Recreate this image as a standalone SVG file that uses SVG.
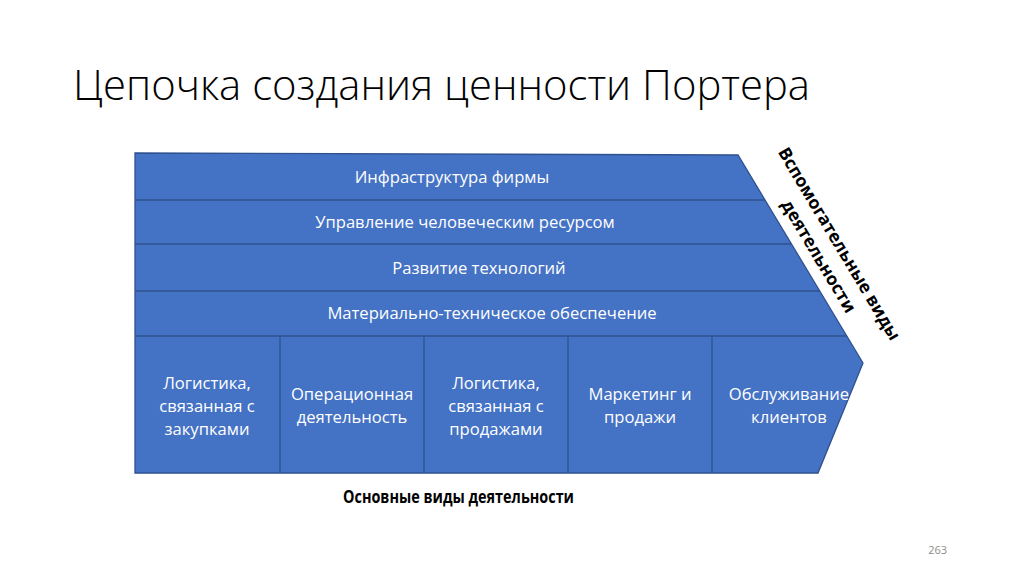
<svg xmlns="http://www.w3.org/2000/svg" width="1024" height="574" viewBox="0 0 1024 574">
<style>
.t{font-family:"Open Sans","Liberation Sans",sans-serif;font-size:16.6px;fill:#ffffff;text-anchor:middle}
.ln{stroke:#2F528F;stroke-width:1.3;fill:none}
</style>
<defs>
<clipPath id="chev"><polygon points="135,153 738,155 863,363 818,473 135,473"/></clipPath>
</defs>
<rect width="1024" height="574" fill="#ffffff"/>
<text x="73" y="100" font-family="'Open Sans','Liberation Sans',sans-serif" font-weight="300" font-size="42" fill="#000" textLength="737" lengthAdjust="spacingAndGlyphs">Цепочка создания ценности Портера</text>
<g id="chevron">
<polygon points="135,153 738,155 863,363 818,473 135,473" fill="#4472C4" stroke="#2F528F" stroke-width="1.3"/>
</g>
<g id="connectors" clip-path="url(#chev)">
<line class="ln" x1="135" y1="200" x2="900" y2="200"/>
<line class="ln" x1="135" y1="244" x2="900" y2="244"/>
<line class="ln" x1="135" y1="291" x2="900" y2="291"/>
<line class="ln" x1="135" y1="336" x2="900" y2="336"/>
<line class="ln" x1="280" y1="336" x2="280" y2="473"/>
<line class="ln" x1="424" y1="336" x2="424" y2="473"/>
<line class="ln" x1="568" y1="336" x2="568" y2="473"/>
<line class="ln" x1="712" y1="336" x2="712" y2="473"/>
</g>
<g id="infra"><text class="t" x="452" y="183">Инфраструктура фирмы</text></g>
<g id="hr"><text class="t" x="465" y="228">Управление человеческим ресурсом</text></g>
<g id="tech"><text class="t" x="479" y="274">Развитие технологий</text></g>
<g id="mto"><text class="t" x="492" y="319">Материально-техническое обеспечение</text></g>
<g id="inlog"><text class="t" x="207" y="389">Логистика,</text><text class="t" x="207" y="412">связанная с</text><text class="t" x="207" y="435">закупками</text></g>
<g id="ops"><text class="t" x="352" y="400">Операционная</text><text class="t" x="352" y="423">деятельность</text></g>
<g id="outlog"><text class="t" x="496" y="389">Логистика,</text><text class="t" x="496" y="412">связанная с</text><text class="t" x="496" y="435">продажами</text></g>
<g id="mkt"><text class="t" x="640" y="400">Маркетинг и</text><text class="t" x="640" y="423">продажи</text></g>
<g id="svc"><text class="t" x="789" y="400">Обслуживание</text><text class="t" x="789" y="423">клиентов</text></g>
<g id="support-label" transform="translate(829,250) rotate(59.1)" font-family="'Open Sans','Liberation Sans',sans-serif" font-weight="bold" font-size="17.5" fill="#000" text-anchor="middle">
<text x="0" y="-6">Вспомогательные виды</text>
<text x="0" y="18">деятельности</text>
</g>
<g id="primary-label"><text x="343" y="503" font-family="'Open Sans','Liberation Sans',sans-serif" font-weight="bold" font-size="17.5" fill="#000" textLength="231" lengthAdjust="spacingAndGlyphs">Основные виды деятельности</text></g>
<text x="947" y="554" font-family="'Open Sans','Liberation Sans',sans-serif" font-size="11" fill="#8c8c8c" text-anchor="end">263</text>
</svg>
